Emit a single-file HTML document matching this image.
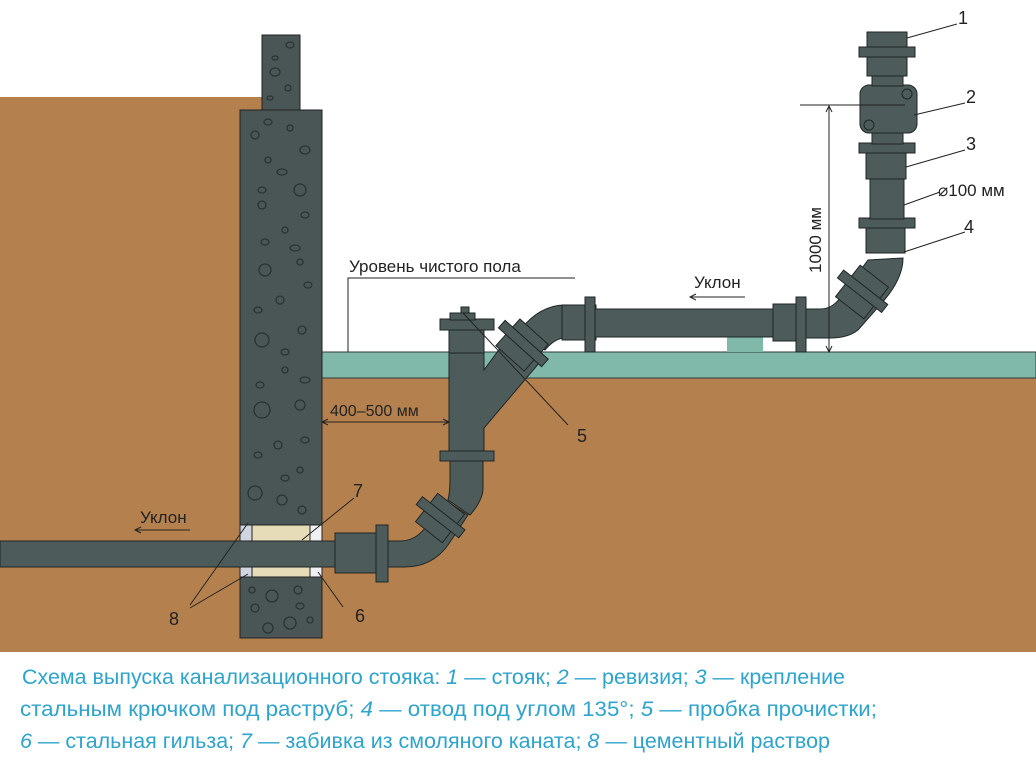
<!DOCTYPE html>
<html><head><meta charset="utf-8"><style>body{margin:0;background:#fff}svg{display:block}</style></head><body>
<svg width="1036" height="776" viewBox="0 0 1036 776" xmlns="http://www.w3.org/2000/svg" font-family="Liberation Sans, sans-serif">
<rect width="1036" height="776" fill="#fff"/>
<rect x="0" y="97" width="262" height="555" fill="#b4814e"/>
<rect x="0" y="378" width="1036" height="274" fill="#b4814e"/>
<rect x="322" y="352" width="714" height="26" fill="#80b9a9" stroke="#2f3a38" stroke-width="1"/>
<rect x="727" y="336" width="36" height="16" fill="#80b9a9"/>
<g fill="#4a5656" stroke="#222" stroke-width="1">
<rect x="262" y="35" width="38" height="80"/>
<rect x="240" y="110" width="82" height="528"/>
</g>
<g fill="none" stroke="#2a3333" stroke-width="1.3">
<ellipse cx="290" cy="45" rx="4" ry="3"/><ellipse cx="275" cy="58" rx="3" ry="2"/><ellipse cx="275" cy="72" rx="5" ry="4"/><circle cx="288" cy="88" r="3"/><ellipse cx="270" cy="98" rx="3" ry="2"/>
<circle cx="255" cy="135" r="4"/><ellipse cx="268" cy="122" rx="4" ry="3"/><circle cx="290" cy="128" r="3"/><ellipse cx="305" cy="150" rx="5" ry="4"/><circle cx="268" cy="160" r="3"/><ellipse cx="282" cy="172" rx="5" ry="3"/><circle cx="300" cy="190" r="6"/><ellipse cx="262" cy="190" rx="4" ry="3"/><circle cx="262" cy="205" r="4"/><ellipse cx="305" cy="215" rx="4" ry="3"/><circle cx="285" cy="230" r="3"/><ellipse cx="265" cy="242" rx="4" ry="3"/><ellipse cx="295" cy="248" rx="5" ry="3"/>
<circle cx="265" cy="270" r="6"/><circle cx="300" cy="262" r="3"/><ellipse cx="308" cy="285" rx="4" ry="3"/><circle cx="280" cy="300" r="4"/><ellipse cx="258" cy="310" rx="4" ry="3"/><circle cx="262" cy="340" r="7"/><circle cx="302" cy="330" r="4"/><ellipse cx="285" cy="352" rx="4" ry="3"/><circle cx="285" cy="370" r="3"/><ellipse cx="305" cy="380" rx="5" ry="3"/><ellipse cx="260" cy="385" rx="4" ry="3"/>
<circle cx="262" cy="410" r="8"/><circle cx="300" cy="405" r="5"/><circle cx="278" cy="445" r="4"/><ellipse cx="305" cy="440" rx="4" ry="3"/><ellipse cx="258" cy="455" rx="4" ry="3"/><circle cx="300" cy="470" r="3"/><circle cx="282" cy="500" r="5"/><circle cx="255" cy="493" r="7"/><circle cx="302" cy="510" r="4"/><ellipse cx="285" cy="478" rx="4" ry="3"/>
<circle cx="252" cy="590" r="3"/><circle cx="272" cy="596" r="6"/><circle cx="298" cy="590" r="4"/><circle cx="255" cy="608" r="4"/><circle cx="290" cy="623" r="6"/><circle cx="268" cy="628" r="5"/><circle cx="310" cy="620" r="3"/><ellipse cx="300" cy="606" rx="4" ry="3"/>
</g>
<rect x="240" y="525" width="82" height="52" fill="#e6dcb8" stroke="#222"/>
<rect x="240" y="525" width="12" height="52" fill="#cfd6e0" stroke="#222"/><rect x="310" y="525" width="12" height="52" fill="#eef0f4" stroke="#222"/>
<g fill="#4d5b5b" stroke="#1f2626" stroke-width="1">
<rect x="0" y="541" width="340" height="26"/>
<rect x="335" y="533" width="45" height="40"/>
<rect x="376" y="525" width="12" height="57"/>
<path d="M388 541 L400 541 Q415 541 425 528 L445 500 L468 515 L448 545 Q432 567 405 567 L388 567 Z"/>
<g transform="translate(440,518) rotate(-52)"><rect x="-18" y="-17" width="36" height="34"/><rect x="-4" y="-27" width="10" height="54"/></g>
<path d="M450 460 L483 460 L483 488 Q483 500 470 515 L448 500 Q450 492 450 480 Z"/>
<rect x="440" y="451" width="54" height="10"/>
<path d="M449 352 L484 352 L484 370 L506 340 L540 362 L484 428 L484 451 L449 451 Z"/>
<rect x="449" y="329" width="35" height="24"/>
<rect x="440" y="319" width="54" height="11"/>
<rect x="450" y="313" width="25" height="7"/>
<rect x="461" y="307" width="8" height="6"/>
<path d="M520 330 Q540 305 565 305 L565 338 Q555 338 545 350 Z"/>
<g transform="translate(522,345) rotate(-48)"><rect x="-18" y="-19" width="36" height="38"/><rect x="-3" y="-29" width="10" height="58"/></g>
<rect x="562" y="305" width="34" height="35"/>
<rect x="585" y="297" width="10" height="55"/>
<rect x="595" y="309" width="180" height="28"/>
<rect x="773" y="304" width="33" height="37"/>
<rect x="796" y="297" width="10" height="55"/>
<path d="M806 309 L820 309 Q832 309 840 298 L868 260 L903 258 Q903 280 880 305 L858 330 Q848 338 830 338 L806 338 Z"/>
<g transform="translate(862,292) rotate(-52)"><rect x="-20" y="-18" width="40" height="36"/><rect x="-4" y="-28" width="10" height="56"/></g>
<rect x="866" y="228" width="39" height="25"/>
<rect x="859" y="218" width="56" height="10"/>
<rect x="870" y="178" width="34" height="41"/>
<rect x="866" y="153" width="40" height="26"/>
<rect x="859" y="143" width="56" height="10"/>
<rect x="872" y="132" width="31" height="12"/>
<rect x="860" y="85" width="57" height="48" rx="9"/>
<rect x="872" y="75" width="31" height="11"/>
<rect x="867" y="32" width="40" height="44"/>
<rect x="859" y="47" width="56" height="10"/>
</g>
<circle cx="907" cy="94" r="5" fill="none" stroke="#1f2626"/><circle cx="869" cy="125" r="5" fill="none" stroke="#1f2626"/>
<g stroke="#222" stroke-width="1" fill="none">
<line x1="800" y1="105" x2="905" y2="105"/>
<line x1="829" y1="106" x2="829" y2="352"/>
<path d="M826 112 L829 106 L832 112 M826 346 L829 352 L832 346"/>
<path d="M348 352 L348 278 L575 278"/>
<path d="M690 297 L745 297 M696 294 L690 297 L696 300"/>
<path d="M135 530 L190 530 M141 527 L135 530 L141 533"/>
<path d="M322 422 L449 422 M328 419 L322 422 L328 425 M443 419 L449 422 L443 425"/>
<path d="M907 38 L957 24 M914 115 L965 103 M906 167 L965 150 M904 205 L940 192 M904 252 L965 232"/>
<path d="M463 313 L568 425"/>
<path d="M354 498 L302 540"/>
<path d="M318 572 L343 607"/>
<path d="M190 605 L248 523 M190 608 L248 574"/>
</g>
<g font-size="18" fill="#222">
<text x="958" y="24">1</text><text x="966" y="103">2</text><text x="966" y="150">3</text><text x="964" y="233">4</text>
<text x="938" y="196" font-size="17">⌀100 мм</text>
<text transform="translate(821,240) rotate(-90)" text-anchor="middle" font-size="17">1000 мм</text>
<text x="349" y="272" font-size="17">Уровень чистого пола</text>
<text x="694" y="288" font-size="17">Уклон</text>
<text x="140" y="523" font-size="17">Уклон</text>
<text x="330" y="416" font-size="16">400–500 мм</text>
<text x="577" y="442">5</text><text x="353" y="497">7</text><text x="355" y="622">6</text><text x="169" y="625">8</text>
</g>
<g font-size="21" fill="#2ea3cb">
<text x="22" y="684" textLength="823" lengthAdjust="spacingAndGlyphs">Схема выпуска канализационного стояка: <tspan font-style="italic">1</tspan> — стояк; <tspan font-style="italic">2</tspan> — ревизия; <tspan font-style="italic">3</tspan> — крепление</text>
<text x="20" y="716" textLength="857" lengthAdjust="spacingAndGlyphs">стальным крючком под раструб; <tspan font-style="italic">4</tspan> — отвод под углом 135°; <tspan font-style="italic">5</tspan> — пробка прочистки;</text>
<text x="20" y="748" textLength="810" lengthAdjust="spacingAndGlyphs"><tspan font-style="italic">6</tspan> — стальная гильза; <tspan font-style="italic">7</tspan> — забивка из смоляного каната; <tspan font-style="italic">8</tspan> — цементный раствор</text>
</g>
</svg>
</body></html>
